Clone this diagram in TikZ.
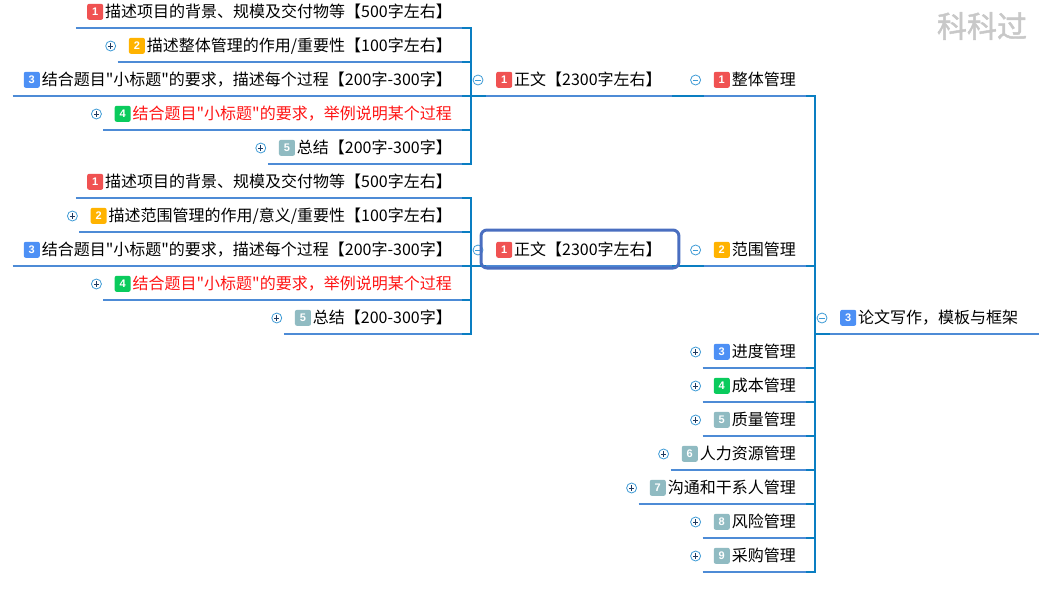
\documentclass[tikz,border=0pt]{standalone}
\usepackage{fontspec}
\setmainfont{Noto Sans CJK SC}[Ligatures=TeXOff]
\newfontfamily\badgefont{Liberation Sans}
\newfontfamily\markfont{Noto Sans CJK SC}[FakeBold=1.5]
\usetikzlibrary{positioning}
\definecolor{ulblue}{HTML}{4D8BD6}
\definecolor{barblue}{HTML}{0A7EC2}
\definecolor{iconblue}{HTML}{3E9BD6}
\definecolor{iconnavy}{HTML}{1F3A60}
\definecolor{focusblue}{HTML}{4A6EC0}
\definecolor{badgered}{HTML}{F05252}
\definecolor{badgeorange}{HTML}{FFB300}
\definecolor{badgeblue}{HTML}{4D90F5}
\definecolor{badgegreen}{HTML}{0ACB5D}
\definecolor{badgegray}{HTML}{90BBC2}
\definecolor{alertred}{HTML}{FF1414}
\definecolor{markgray}{HTML}{C8C8C8}
\newcommand{\badge}[2]{\tikz[baseline=0pt]\node[fill=#1, rounded corners=2pt,
    text=white, font=\badgefont\bfseries\fontsize{11}{11}\selectfont,
    inner sep=0pt, minimum width=16pt, minimum height=16pt,
    text height=8pt, text depth=0pt, anchor=center] (badge) at (0pt,6pt) {#2};\hspace{2pt}}

\begin{document}
\begin{tikzpicture}[x=1pt, y=-1pt,
    topicnode/.style={font=\fontsize{16}{18}\selectfont, inner xsep=11pt,
                      inner ysep=3pt, text height=12pt, text depth=7pt},
    ulink/.style={ulblue, line width=2pt},
    barlink/.style={barblue, line width=2pt, line cap=rect},
    plusicon/.style={circle, draw=iconblue, line width=0.8pt, fill=white,
                     minimum size=10pt, inner sep=0pt,
                     path picture={\draw[iconnavy, line width=0.8pt]
                       ([xshift=-2.6pt]path picture bounding box.center) --
                       ([xshift=2.6pt]path picture bounding box.center)
                       ([yshift=-2.6pt]path picture bounding box.center) --
                       ([yshift=2.6pt]path picture bounding box.center);}},
    minusicon/.style={circle, draw=iconblue, line width=0.8pt, fill=white,
                      minimum size=10pt, inner sep=0pt,
                      path picture={\draw[iconblue, line width=0.8pt]
                        ([xshift=-2.6pt]path picture bounding box.center) --
                        ([xshift=2.6pt]path picture bounding box.center);}},
    focusbox/.style={draw=focusblue, line width=3pt, rounded corners=6pt}
]
\useasboundingbox (0,0) rectangle (1039,592);

% first branch
\node[topicnode, anchor=south east] (A1) at (463, 28)  {\badge{badgered}{1}描述项目的背景、规模及交付物等【500字左右】};
\node[topicnode, anchor=south east] (A2) at (463, 62)  {\badge{badgeorange}{2}描述整体管理的作用/重要性【100字左右】};
\node[topicnode, anchor=south east] (A3) at (463, 96)  {\badge{badgeblue}{3}结合题目"小标题"的要求，描述每个过程【200字-300字】};
\node[topicnode, anchor=south east, text=alertred] (A4) at (463, 130) {\badge{badgegreen}{4}结合题目"小标题"的要求，举例说明某个过程};
\node[topicnode, anchor=south east] (A5) at (463, 164) {\badge{badgegray}{5}总结【200字-300字】};
\node[topicnode, anchor=south west] (Z1) at (485, 96)  {\badge{badgered}{1}正文【2300字左右】};

% second branch
\node[topicnode, anchor=south east] (B1) at (463, 198) {\badge{badgered}{1}描述项目的背景、规模及交付物等【500字左右】};
\node[topicnode, anchor=south east] (B2) at (463, 232) {\badge{badgeorange}{2}描述范围管理的作用/意义/重要性【100字左右】};
\node[topicnode, anchor=south east] (B3) at (463, 266) {\badge{badgeblue}{3}结合题目"小标题"的要求，描述每个过程【200字-300字】};
\node[topicnode, anchor=south east, text=alertred] (B4) at (463, 300) {\badge{badgegreen}{4}结合题目"小标题"的要求，举例说明某个过程};
\node[topicnode, anchor=south east] (B5) at (463, 334) {\badge{badgegray}{5}总结【200-300字】};
\node[topicnode, anchor=south west] (Z2) at (485, 266) {\badge{badgered}{1}正文【2300字左右】};

% knowledge areas
\node[topicnode, anchor=south east] (G1) at (807, 96)  {\badge{badgered}{1}整体管理};
\node[topicnode, anchor=south east] (G2) at (807, 266) {\badge{badgeorange}{2}范围管理};
\node[topicnode, anchor=south east] (G3) at (807, 368) {\badge{badgeblue}{3}进度管理};
\node[topicnode, anchor=south east] (G4) at (807, 402) {\badge{badgegreen}{4}成本管理};
\node[topicnode, anchor=south east] (G5) at (807, 436) {\badge{badgegray}{5}质量管理};
\node[topicnode, anchor=south east] (G6) at (807, 470) {\badge{badgegray}{6}人力资源管理};
\node[topicnode, anchor=south east] (G7) at (807, 504) {\badge{badgegray}{7}沟通和干系人管理};
\node[topicnode, anchor=south east] (G8) at (807, 538) {\badge{badgegray}{8}风险管理};
\node[topicnode, anchor=south east] (G9) at (807, 572) {\badge{badgegray}{9}采购管理};

\node[topicnode, anchor=south west] (Root) at (829, 334) {\badge{badgeblue}{3}论文写作，模板与框架};
\coordinate (Edge) at (1039, 334);

% underlines
\foreach \n in {A1,A2,A3,A4,A5,B1,B2,B3,B4,B5,Z1,Z2,G1,G2,G3,G4,G5,G6,G7,G8,G9}
  \draw[ulink] (\n.south west) -- (\n.south east);
\draw[ulink] (Root.south west) -- (Edge);

% branch bars
\foreach \n in {A1,A2,A3,A4,A5,B1,B2,B3,B4,B5}
  \draw[barlink] (\n.south east) -- ++(8,0);
\draw[barlink] ([xshift=8pt]A1.south east) -- ([xshift=8pt]A5.south east);
\draw[barlink] ([xshift=8pt]B1.south east) -- ([xshift=8pt]B5.south east);
\draw[barlink] (Z1.south west) -- ++(-14,0);
\draw[barlink] (Z2.south west) -- ++(-14,0);
\draw[barlink] (Z1.south east) -- (G1.south west);
\draw[barlink] (Z2.south east) -- (G2.south west);

\foreach \n in {G1,G2,G3,G4,G5,G6,G7,G8,G9}
  \draw[barlink] (\n.south east) -- ++(8,0);
\draw[barlink] ([xshift=8pt]G1.south east) -- ([xshift=8pt]G9.south east);
\draw[barlink] (Root.south west) -- ++(-14,0);

% expand / collapse marks
\foreach \n in {A2,A4,A5,B2,B4,B5,G3,G4,G5,G6,G7,G8,G9}
  \node[plusicon] (\n i) at ([shift={(-7,-16)}]\n.south west) {};
\foreach \n in {Z1,Z2,G1,G2,Root}
  \node[minusicon] (\n i) at ([shift={(-7,-16)}]\n.south west) {};

\draw[focusbox] ([shift={(-4,2)}]Z2.south west) rectangle ([shift={(6,-36)}]Z2.south east);

\node[font=\markfont\fontsize{30}{32}\selectfont, text=markgray] (mark) at (982, 26) {科科过};

\end{tikzpicture}
\end{document}
